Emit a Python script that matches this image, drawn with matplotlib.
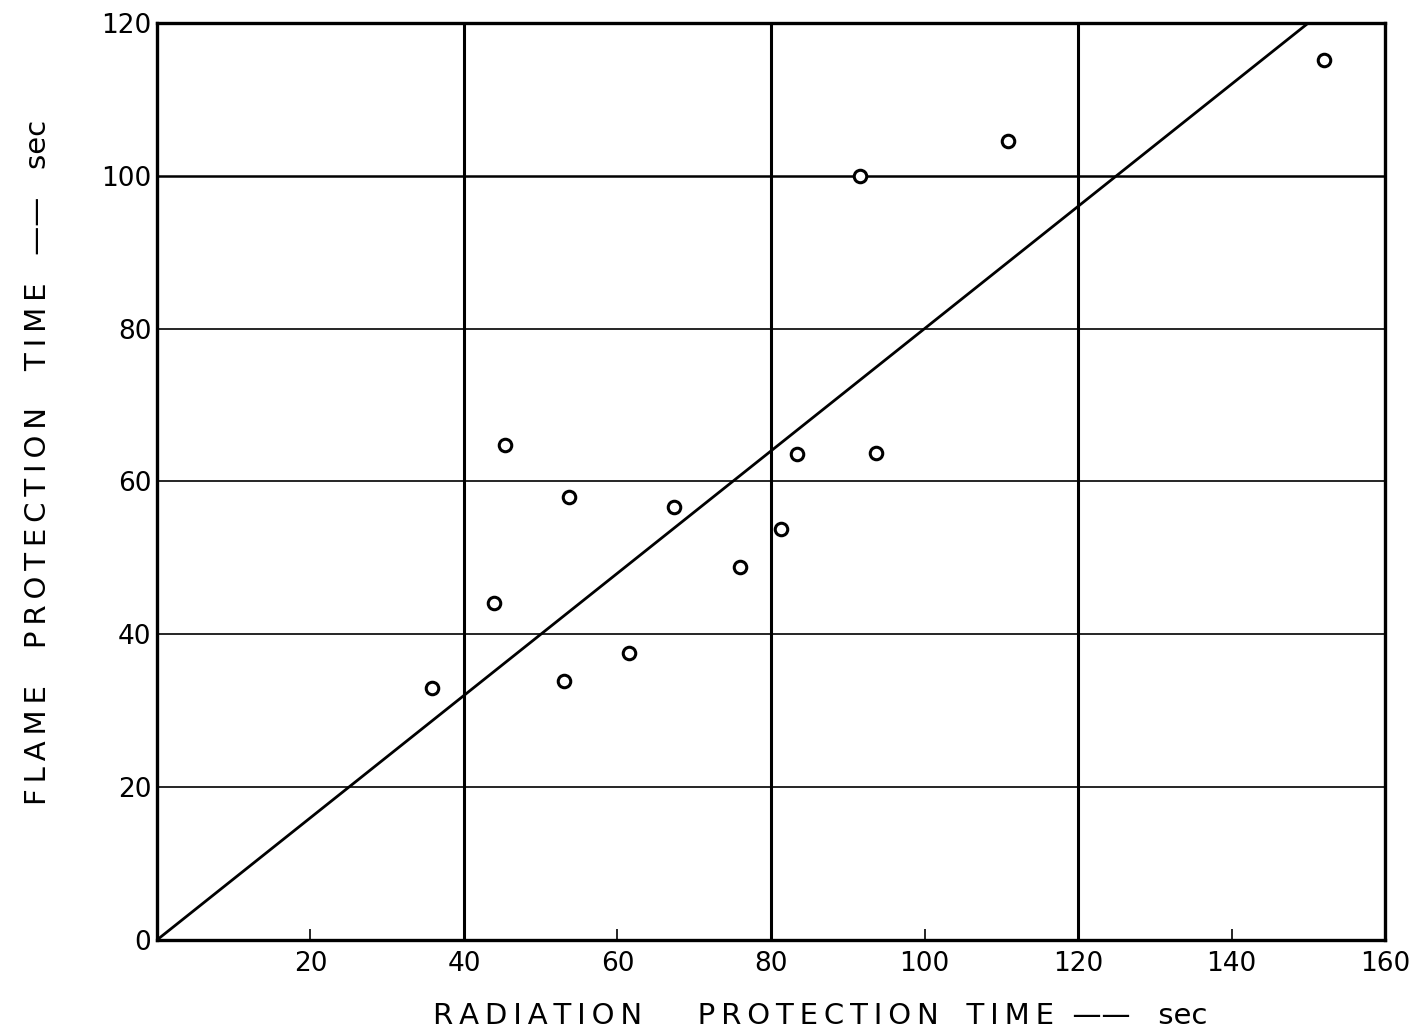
import numpy as np
import matplotlib
matplotlib.use("Agg")
import matplotlib.pyplot as plt

# radiation vs flame protection time (sec)
rad_time = [35.8, 43.9, 45.3, 53.0, 53.7, 61.5, 67.4, 76.0, 81.3, 83.4, 91.6, 93.7, 110.9, 152.1]
flame_time = [33.0, 44.1, 64.8, 33.9, 58.0, 37.6, 56.7, 48.8, 53.8, 63.6, 100.0, 63.7, 104.6, 115.1]

fit_x = [0, 150]
fit_y = [0, 120]

x_ticks = [20, 40, 60, 80, 100, 120, 140, 160]
y_ticks = [0, 20, 40, 60, 80, 100, 120]


def spaced(word):
    # open up the lettering, like the stencil lettering of the original
    return "\u2009".join(word)


fig = plt.figure(figsize=(14.19, 10.36), dpi=100)
ax = fig.add_axes([0.1106, 0.0927, 0.8655, 0.8851])

ax.set_xlim(0, 160)
ax.set_ylim(0, 120)

# grid: heavy verticals at 40/80/120, light horizontals, heavier at 100
for gx in [40, 80, 120]:
    ax.axvline(gx, color="black", lw=2.2, zorder=1)
for gy in [20, 40, 60, 80]:
    ax.axhline(gy, color="black", lw=1.2, zorder=1)
ax.axhline(100, color="black", lw=1.8, zorder=1)

ax.plot(fit_x, fit_y, color="black", lw=2.0, zorder=2)
ax.plot(rad_time, flame_time, linestyle="none", marker="o", markersize=9,
        markerfacecolor="white", markeredgecolor="black", markeredgewidth=2.2, zorder=3)

for s in ax.spines.values():
    s.set_linewidth(2.4)

ax.set_xticks(x_ticks)
ax.set_yticks(y_ticks)
ax.set_xticklabels([str(v) for v in x_ticks], fontsize=19)
ax.set_yticklabels([str(v) for v in y_ticks], fontsize=19)
ax.tick_params(axis="x", direction="in", length=8, width=1.2, pad=8)
ax.tick_params(axis="y", length=0, pad=4)

xlab = (spaced("RADIATION") + "      " + spaced("PROTECTION") + "   "
        + spaced("TIME") + "  ——   sec")
ylab = (spaced("FLAME") + "    " + spaced("PROTECTION") + "    "
        + spaced("TIME") + "   ——   sec")
ax.set_xlabel(xlab, fontsize=21)
ax.set_ylabel(ylab, fontsize=21)
ax.xaxis.set_label_coords(0.54, -0.068)
ax.yaxis.set_label_coords(-0.0855, 0.521)

fig.savefig("out.png", dpi=100)
